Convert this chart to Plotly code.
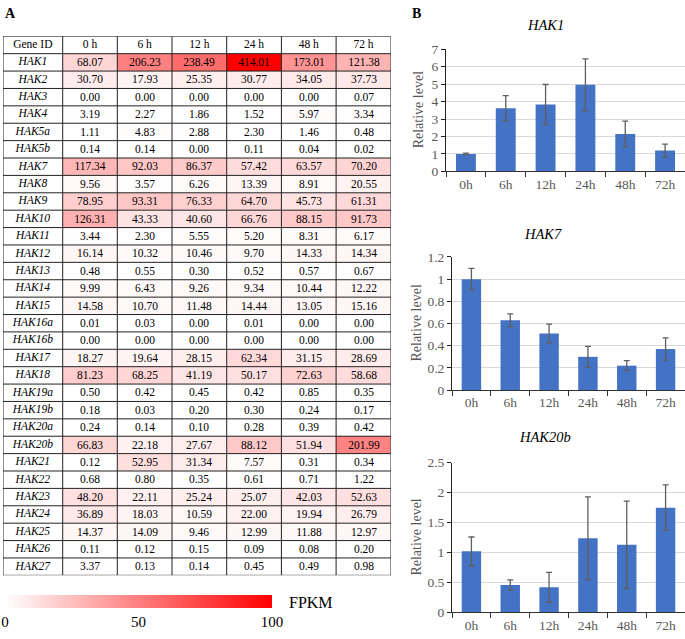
import plotly.graph_objects as go

W, H = 685, 639
SERIF = "Liberation Serif"

# ---------------- Data: panel A (FPKM table) ----------------
genes = ["HAK1", "HAK2", "HAK3", "HAK4", "HAK5a", "HAK5b", "HAK7", "HAK8", "HAK9", "HAK10",
         "HAK11", "HAK12", "HAK13", "HAK14", "HAK15", "HAK16a", "HAK16b", "HAK17", "HAK18",
         "HAK19a", "HAK19b", "HAK20a", "HAK20b", "HAK21", "HAK22", "HAK23", "HAK24", "HAK25",
         "HAK26", "HAK27"]
time_headers = ["0 h", "6 h", "12 h", "24 h", "48 h", "72 h"]

fpkm_0h = [68.07, 30.70, 0.00, 3.19, 1.11, 0.14, 117.34, 9.56, 78.95, 126.31, 3.44, 16.14, 0.48,
           9.99, 14.58, 0.01, 0.00, 18.27, 81.23, 0.50, 0.18, 0.24, 66.83, 0.12, 0.68, 48.20,
           36.89, 14.37, 0.11, 3.37]
fpkm_6h = [206.23, 17.93, 0.00, 2.27, 4.83, 0.14, 92.03, 3.57, 93.31, 43.33, 2.30, 10.32, 0.55,
           6.43, 10.70, 0.03, 0.00, 19.64, 68.25, 0.42, 0.03, 0.14, 22.18, 52.95, 0.80, 22.11,
           18.03, 14.09, 0.12, 0.13]
fpkm_12h = [238.49, 25.35, 0.00, 1.86, 2.88, 0.00, 86.37, 6.26, 76.33, 40.60, 5.55, 10.46, 0.30,
            9.26, 11.48, 0.00, 0.00, 28.15, 41.19, 0.45, 0.20, 0.10, 27.67, 31.34, 0.35, 25.24,
            10.59, 9.46, 0.15, 0.14]
fpkm_24h = [414.01, 30.77, 0.00, 1.52, 2.30, 0.11, 57.42, 13.39, 64.70, 66.76, 5.20, 9.70, 0.52,
            9.34, 14.44, 0.01, 0.00, 62.34, 50.17, 0.42, 0.30, 0.28, 88.12, 7.57, 0.61, 25.07,
            22.00, 12.99, 0.09, 0.45]
fpkm_48h = [173.01, 34.05, 0.00, 5.97, 1.46, 0.04, 63.57, 8.91, 45.73, 88.15, 8.31, 14.33, 0.57,
            10.44, 13.05, 0.00, 0.00, 31.15, 72.63, 0.85, 0.24, 0.39, 51.94, 0.31, 0.71, 42.03,
            19.94, 11.88, 0.08, 0.49]
fpkm_72h = [121.38, 37.73, 0.07, 3.34, 0.48, 0.02, 70.20, 20.55, 61.31, 91.73, 6.17, 14.34, 0.67,
            12.22, 15.16, 0.00, 0.00, 28.69, 58.68, 0.35, 0.17, 0.42, 201.99, 0.34, 1.22, 52.63,
            26.79, 12.97, 0.20, 0.98]

legend_ticks = [0, 50, 100]

# ---------------- Data: panel B (qPCR) ----------------
times_b = ["0h", "6h", "12h", "24h", "48h", "72h"]
hak1_mean = [1.00, 3.62, 3.83, 4.96, 2.14, 1.19]
hak1_err = [0.04, 0.72, 1.15, 1.49, 0.74, 0.37]
hak7_mean = [1.00, 0.63, 0.51, 0.30, 0.22, 0.37]
hak7_err = [0.097, 0.057, 0.085, 0.095, 0.045, 0.10]
hak20b_mean = [1.02, 0.46, 0.42, 1.24, 1.13, 1.75]
hak20b_err = [0.24, 0.085, 0.25, 0.69, 0.73, 0.38]

# ---------------- Figure ----------------
fig = go.Figure()

def px_x(p):
    return p / W

def px_y(p):
    return 1 - p / H

# table geometry (pixels)
tab_left, tab_right, tab_top, tab_bottom = 3.0, 391.0, 30.0, 582.0
col_edges_abs = [3.0, 62.7, 117.3, 172.0, 226.7, 281.4, 336.1, 391.0]
col_edges = [c - tab_left for c in col_edges_abs]
n_rows = len(genes)

z = [list(r) for r in zip(fpkm_0h, fpkm_6h, fpkm_12h, fpkm_24h, fpkm_48h, fpkm_72h)]
zmax = max(max(r) for r in z)

fig.add_trace(go.Heatmap(
    z=z, x=col_edges[1:], y=list(range(n_rows)),
    coloraxis="coloraxis", texttemplate="%{z:.2f}",
    textfont=dict(family=SERIF, size=11.5, color="black"),
    hoverinfo="skip", xaxis="x4", yaxis="y4",
))

col_centers = [(col_edges[i] + col_edges[i + 1]) / 2 for i in range(len(col_edges) - 1)]
# gene names
fig.add_trace(go.Scatter(
    x=[col_centers[0]] * n_rows, y=list(range(n_rows)), text=genes, mode="text",
    textfont=dict(family=SERIF, size=11.5, color="black", style="italic"),
    hoverinfo="skip", showlegend=False, xaxis="x4", yaxis="y4",
))
# header
fig.add_trace(go.Scatter(
    x=col_centers, y=[-1] * 7, text=["Gene ID"] + time_headers, mode="text",
    textfont=dict(family=SERIF, size=11.5, color="black"),
    hoverinfo="skip", showlegend=False, xaxis="x4", yaxis="y4",
))
# legend colour bar (dummy trace)
fig.add_trace(go.Scatter(
    x=[col_centers[0], col_centers[0]], y=[0, 0], mode="markers",
    marker=dict(color=[legend_ticks[0], legend_ticks[-1]], coloraxis="coloraxis2", opacity=0, size=1),
    hoverinfo="skip", showlegend=False, xaxis="x4", yaxis="y4",
))

shapes = []
for i in range(n_rows + 2):
    yv = -1.5 + i
    shapes.append(dict(type="line", xref="x4", yref="y4", x0=0, x1=col_edges[-1], y0=yv, y1=yv,
                       line=dict(color="#222222", width=1)))
for c in col_edges:
    shapes.append(dict(type="line", xref="x4", yref="y4", x0=c, x1=c, y0=-1.5, y1=n_rows - 0.5,
                       line=dict(color="#222222", width=1)))

# ---------------- bar charts ----------------
bar_color = "#4472C4"
err_color = "#5f5f5f"
charts = [
    ("HAK1", hak1_mean, hak1_err, [0, 7], 1, 446, 43.3, 168.3, 545, 18, 418),
    ("HAK7", hak7_mean, hak7_err, [0, 1.2], 0.2, 452, 256.0, 392.3, 543, 232, 417),
    ("HAK20b", hak20b_mean, hak20b_err, [0, 2.5], 0.5, 452, 466.7, 620.0, 545, 440, 417),
]
annotations = []
layout_axes = {}
for k, (name, mean, err, yr, dt, x0, ytop, ybot, tx, ty, lx) in enumerate(charts, start=1):
    xa = "x" if k == 1 else f"x{k}"
    ya = "y" if k == 1 else f"y{k}"
    fig.add_trace(go.Bar(
        x=times_b, y=mean, marker=dict(color=bar_color, line=dict(width=0)),
        error_y=dict(type="data", array=err, visible=True, color=err_color, thickness=1.3, width=3),
        xaxis=xa, yaxis=ya, showlegend=False, hoverinfo="skip",
    ))
    layout_axes["xaxis" if k == 1 else f"xaxis{k}"] = dict(
        domain=[px_x(x0), 1.0], anchor=ya, type="category",
        showline=True, linecolor="#333333", linewidth=1,
        ticks="outside", tickson="boundaries", ticklen=5, tickcolor="#333333",
        tickfont=dict(family=SERIF, size=13.5, color="#595959"), showgrid=False, fixedrange=True,
    )
    layout_axes["yaxis" if k == 1 else f"yaxis{k}"] = dict(
        domain=[px_y(ybot), px_y(ytop)], anchor=xa, range=yr, dtick=dt, tick0=0,
        showline=True, linecolor="#222222", linewidth=1,
        ticks="outside", ticklen=4, tickcolor="#222222",
        tickfont=dict(family=SERIF, size=13.5, color="#595959"),
        showgrid=True, gridcolor="#D9D9D9", gridwidth=1, zeroline=False, fixedrange=True,
    )
    annotations.append(dict(text=f"<i>{name}</i>", x=px_x(tx), y=px_y(ty), xref="paper", yref="paper",
                            showarrow=False, font=dict(family=SERIF, size=14.5, color="black"),
                            xanchor="center", yanchor="middle"))
    annotations.append(dict(text="Relative level", x=px_x(lx), y=px_y((ytop + ybot) / 2),
                            xref="paper", yref="paper", showarrow=False, textangle=-90,
                            font=dict(family=SERIF, size=14, color="#595959"),
                            xanchor="center", yanchor="middle"))

annotations.append(dict(text="<b>A</b>", x=px_x(3), y=px_y(7), xref="paper", yref="paper",
                        showarrow=False, xanchor="left", yanchor="middle",
                        font=dict(family=SERIF, size=14, color="black")))
annotations.append(dict(text="<b>B</b>", x=px_x(410), y=px_y(7), xref="paper", yref="paper",
                        showarrow=False, xanchor="left", yanchor="middle",
                        font=dict(family=SERIF, size=14, color="black")))
annotations.append(dict(text="FPKM", x=px_x(287), y=px_y(610), xref="paper", yref="paper",
                        showarrow=False, xanchor="left", yanchor="middle",
                        font=dict(family=SERIF, size=16, color="black")))

fig.update_layout(
    width=W, height=H, margin=dict(l=0, r=0, t=0, b=0),
    paper_bgcolor="white", plot_bgcolor="white",
    showlegend=False, bargap=0.5,
    shapes=shapes, annotations=annotations,
    xaxis4=dict(domain=[px_x(tab_left), px_x(tab_right)], range=[0, col_edges[-1]], anchor="y4",
                visible=False, fixedrange=True),
    yaxis4=dict(domain=[px_y(tab_bottom), px_y(tab_top)], range=[n_rows - 0.5, -1.5], anchor="x4",
                visible=False, fixedrange=True),
    coloraxis=dict(colorscale=[[0, "#FFFFFF"], [1, "#FF0000"]], cmin=0, cmax=zmax, showscale=False),
    coloraxis2=dict(
        colorscale=[[0, "#FFFFFF"], [1, "#FF0000"]], cmin=legend_ticks[0], cmax=legend_ticks[-1],
        showscale=True,
        colorbar=dict(
            orientation="h", x=px_x(5), xanchor="left", y=px_y(602), yanchor="top",
            len=267, lenmode="pixels", thickness=13, thicknessmode="pixels",
            xpad=0, ypad=0, outlinewidth=0, ticks="", tickvals=legend_ticks,
            tickfont=dict(family=SERIF, size=15, color="black"),
        ),
    ),
    **layout_axes,
)

fig.write_html(
    "out.html", config={"displayModeBar": False},
    post_script=("document.documentElement.style.margin='0';"
                 "document.documentElement.style.padding='0';"
                 "document.body.style.margin='0';document.body.style.padding='0';"
                 "document.body.style.overflow='hidden';"),
)
